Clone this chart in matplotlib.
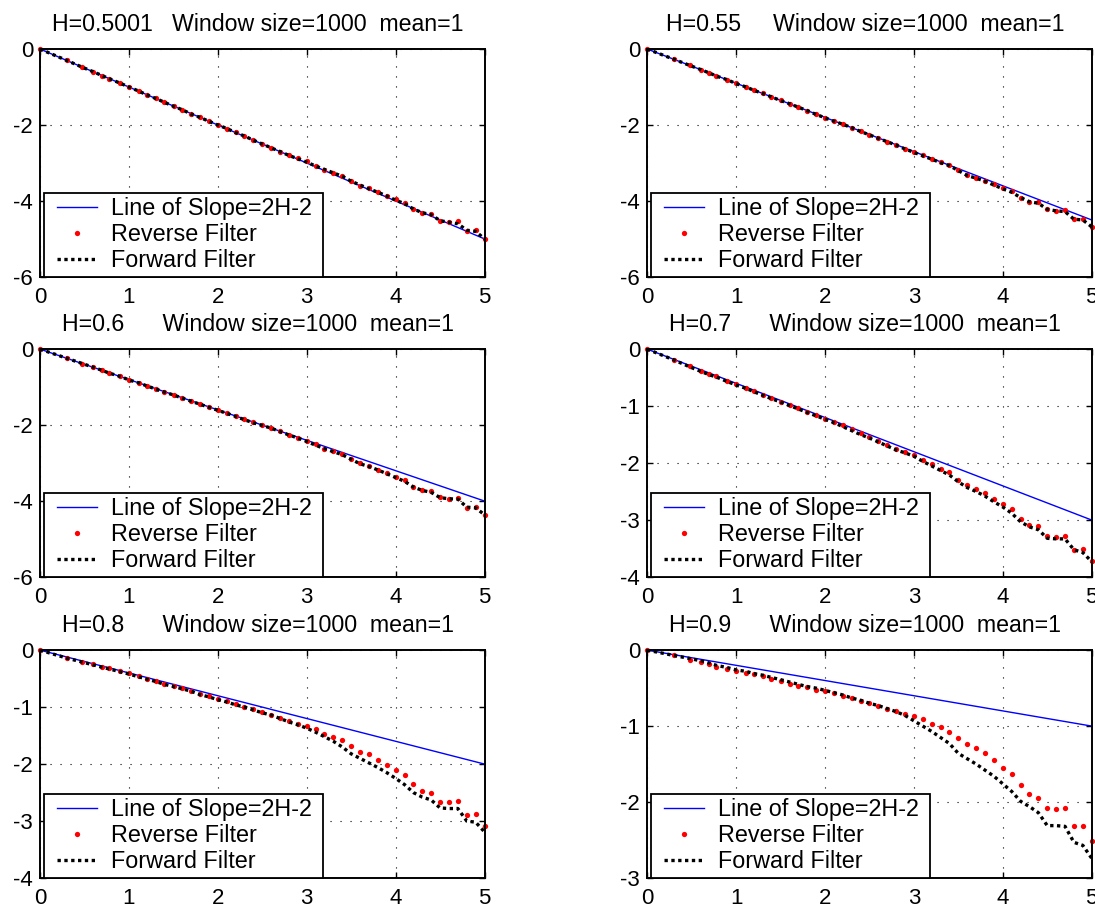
import matplotlib
matplotlib.use('Agg')
import matplotlib.pyplot as plt
from matplotlib.lines import Line2D
from matplotlib.legend_handler import HandlerLine2D

plt.rcParams['font.family'] = ['Liberation Sans', 'DejaVu Sans']
plt.rcParams['axes.unicode_minus'] = False

### Data: log10(window) on x, log10(normalised variance) on y
x_logm = [0, 0.301, 0.477, 0.602, 0.699, 0.778, 0.903, 1.0, 1.114, 1.204,
          1.301, 1.398, 1.505, 1.602, 1.699, 1.799, 1.898, 2.0, 2.1, 2.2,
          2.3, 2.4, 2.5, 2.6, 2.7, 2.8, 2.9, 3.0, 3.1, 3.2,
          3.3, 3.4, 3.5, 3.6, 3.7, 3.8, 3.9, 4.0, 4.1, 4.2,
          4.3, 4.4, 4.5, 4.6, 4.7, 4.8, 4.9, 5.0]

titles = ['H=0.5001   Window size=1000  mean=1',
          'H=0.55     Window size=1000  mean=1',
          'H=0.6      Window size=1000  mean=1',
          'H=0.7      Window size=1000  mean=1',
          'H=0.8      Window size=1000  mean=1',
          'H=0.9      Window size=1000  mean=1']

# straight line of slope 2H-2, from x=0 to x=5
line_x = [0, 5]
line_end = [-4.999, -4.5, -4.0, -3.0, -2.0, -1.0]

rev_05 = [0, -0.30, -0.48, -0.60, -0.70, -0.78, -0.90, -1.00, -1.11, -1.21,
          -1.30, -1.40, -1.50, -1.60, -1.70, -1.80, -1.89, -2.00, -2.10, -2.19,
          -2.30, -2.40, -2.49, -2.61, -2.70, -2.80, -2.88, -2.96, -3.07, -3.18,
          -3.27, -3.34, -3.47, -3.61, -3.67, -3.77, -3.87, -3.96, -4.06, -4.22,
          -4.31, -4.34, -4.53, -4.56, -4.53, -4.79, -4.77, -5.00]
fwd_05 = [0, -0.30, -0.48, -0.60, -0.70, -0.78, -0.90, -1.00, -1.11, -1.21,
          -1.30, -1.40, -1.51, -1.60, -1.71, -1.80, -1.90, -2.00, -2.09, -2.20,
          -2.29, -2.40, -2.50, -2.60, -2.70, -2.80, -2.89, -2.98, -3.08, -3.17,
          -3.26, -3.35, -3.48, -3.58, -3.68, -3.77, -3.87, -3.98, -4.07, -4.21,
          -4.31, -4.36, -4.52, -4.56, -4.60, -4.77, -4.80, -5.00]

rev_055 = [0, -0.27, -0.43, -0.54, -0.63, -0.70, -0.81, -0.90, -1.00, -1.08,
           -1.17, -1.26, -1.35, -1.44, -1.53, -1.62, -1.71, -1.81, -1.89, -1.98,
           -2.07, -2.16, -2.26, -2.34, -2.44, -2.53, -2.62, -2.72, -2.79, -2.89,
           -2.98, -3.05, -3.18, -3.32, -3.39, -3.47, -3.56, -3.67, -3.75, -3.91,
           -4.02, -4.04, -4.22, -4.26, -4.24, -4.48, -4.47, -4.68]
fwd_055 = [0, -0.27, -0.43, -0.54, -0.63, -0.71, -0.81, -0.91, -1.00, -1.09,
           -1.17, -1.26, -1.36, -1.44, -1.53, -1.62, -1.72, -1.81, -1.90, -1.98,
           -2.07, -2.17, -2.26, -2.35, -2.44, -2.53, -2.63, -2.72, -2.81, -2.90,
           -2.99, -3.07, -3.20, -3.33, -3.40, -3.48, -3.58, -3.68, -3.77, -3.91,
           -4.02, -4.06, -4.22, -4.26, -4.28, -4.48, -4.50, -4.68]

rev_06 = [0, -0.24, -0.38, -0.48, -0.56, -0.62, -0.72, -0.80, -0.89, -0.97,
          -1.04, -1.12, -1.21, -1.28, -1.36, -1.44, -1.52, -1.60, -1.69, -1.77,
          -1.85, -1.93, -2.00, -2.07, -2.16, -2.26, -2.33, -2.42, -2.51, -2.62,
          -2.69, -2.75, -2.89, -3.01, -3.08, -3.17, -3.26, -3.37, -3.45, -3.63,
          -3.72, -3.74, -3.89, -3.95, -3.92, -4.17, -4.16, -4.36]
fwd_06 = [0, -0.24, -0.38, -0.48, -0.56, -0.63, -0.72, -0.81, -0.89, -0.97,
          -1.05, -1.13, -1.21, -1.29, -1.37, -1.45, -1.53, -1.61, -1.69, -1.77,
          -1.86, -1.94, -2.01, -2.08, -2.17, -2.26, -2.34, -2.43, -2.53, -2.62,
          -2.70, -2.78, -2.90, -3.02, -3.09, -3.18, -3.28, -3.38, -3.48, -3.63,
          -3.72, -3.77, -3.91, -3.94, -3.95, -4.16, -4.18, -4.36]

rev_07 = [0, -0.19, -0.30, -0.38, -0.44, -0.48, -0.56, -0.62, -0.68, -0.74,
          -0.80, -0.86, -0.92, -0.98, -1.04, -1.10, -1.16, -1.22, -1.28, -1.34,
          -1.41, -1.48, -1.55, -1.61, -1.68, -1.75, -1.80, -1.86, -1.94, -2.02,
          -2.10, -2.16, -2.29, -2.39, -2.46, -2.53, -2.63, -2.71, -2.81, -2.98,
          -3.08, -3.11, -3.28, -3.29, -3.28, -3.52, -3.50, -3.72]
fwd_07 = [0, -0.19, -0.31, -0.39, -0.45, -0.49, -0.57, -0.63, -0.69, -0.75,
          -0.81, -0.87, -0.93, -0.99, -1.05, -1.11, -1.17, -1.23, -1.29, -1.36,
          -1.43, -1.50, -1.56, -1.63, -1.70, -1.77, -1.82, -1.88, -1.97, -2.05,
          -2.13, -2.21, -2.33, -2.43, -2.50, -2.58, -2.68, -2.77, -2.88, -3.03,
          -3.12, -3.17, -3.32, -3.33, -3.33, -3.52, -3.57, -3.73]

rev_08 = [0, -0.14, -0.20, -0.25, -0.29, -0.32, -0.37, -0.41, -0.46, -0.50,
          -0.54, -0.59, -0.63, -0.67, -0.71, -0.77, -0.81, -0.86, -0.90, -0.95,
          -0.99, -1.04, -1.09, -1.13, -1.19, -1.25, -1.29, -1.34, -1.39, -1.47,
          -1.53, -1.58, -1.68, -1.78, -1.83, -1.92, -2.01, -2.10, -2.19, -2.35,
          -2.47, -2.50, -2.66, -2.67, -2.65, -2.89, -2.88, -3.08]
fwd_08 = [0, -0.14, -0.21, -0.26, -0.30, -0.33, -0.38, -0.42, -0.47, -0.51,
          -0.55, -0.60, -0.64, -0.68, -0.72, -0.78, -0.82, -0.87, -0.91, -0.96,
          -1.00, -1.05, -1.10, -1.14, -1.20, -1.26, -1.31, -1.37, -1.44, -1.52,
          -1.60, -1.70, -1.82, -1.90, -1.98, -2.06, -2.15, -2.25, -2.36, -2.50,
          -2.58, -2.63, -2.77, -2.78, -2.78, -3.00, -3.02, -3.19]

rev_09 = [0, -0.07, -0.13, -0.16, -0.18, -0.22, -0.25, -0.27, -0.30, -0.32,
          -0.34, -0.38, -0.41, -0.44, -0.47, -0.49, -0.52, -0.54, -0.57, -0.60,
          -0.63, -0.67, -0.70, -0.73, -0.77, -0.80, -0.84, -0.87, -0.91, -0.97,
          -1.01, -1.08, -1.16, -1.23, -1.29, -1.36, -1.45, -1.55, -1.63, -1.78,
          -1.90, -1.95, -2.08, -2.09, -2.08, -2.32, -2.31, -2.51]
fwd_09 = [0, -0.07, -0.11, -0.14, -0.17, -0.20, -0.23, -0.26, -0.28, -0.31,
          -0.33, -0.36, -0.39, -0.42, -0.45, -0.48, -0.50, -0.53, -0.56, -0.59,
          -0.63, -0.66, -0.70, -0.73, -0.77, -0.81, -0.86, -0.93, -1.00, -1.07,
          -1.15, -1.23, -1.36, -1.43, -1.50, -1.58, -1.66, -1.76, -1.86, -1.99,
          -2.06, -2.14, -2.31, -2.31, -2.32, -2.53, -2.57, -2.74]

xticks = [0, 1, 2, 3, 4, 5]
yticks_6 = [-6, -4, -2, 0]
yticks_4 = [-4, -3, -2, -1, 0]
yticks_3 = [-3, -2, -1, 0]
ylims = [(-6, 0), (-6, 0), (-6, 0), (-4, 0), (-4, 0), (-3, 0)]

reverse = [rev_05, rev_055, rev_06, rev_07, rev_08, rev_09]
forward = [fwd_05, fwd_055, fwd_06, fwd_07, fwd_08, fwd_09]
yticks_all = [yticks_6, yticks_6, yticks_6, yticks_4, yticks_4, yticks_3]


def plot_panel(ax, i):
  ''' One matlab-looking panel: reference line, reverse dots, forward dotted '''
  ax.plot(line_x, [0, line_end[i]], color='#0000ff', lw=1.0,
    label='Line of Slope=2H-2 ')
  ax.plot(x_logm, reverse[i], ls='none', marker='o', ms=3.8,
    mfc='#ff0000', mec='none', clip_on=False, label='Reverse Filter')
  ax.plot(x_logm, forward[i], color='k', lw=2.4, ls=(0, (1, 1.05)),
    label='Forward Filter')

  ax.set_xlim(0, 5)
  ax.set_ylim(*ylims[i])
  ax.set_xticks(xticks)
  ax.set_xticklabels([str(t) for t in xticks])
  ax.set_yticks(yticks_all[i])
  ax.set_yticklabels([str(t) for t in yticks_all[i]])
  ax.grid(True, color='k', ls=(0, (1, 8)), lw=0.8)
  ax.tick_params(direction='in', length=4, top=True, right=True,
    labelsize=16, width=1)
  ax.tick_params(axis='x', pad=7)
  ax.tick_params(axis='y', pad=5)
  for sp in ax.spines.values():
    sp.set_linewidth(1.4)
  ax.set_title(titles[i], fontsize=16.7, pad=13, x=0.49)

  # xpad pushes the handle a bit away from the frame, like matlab does
  leg = ax.legend(loc='lower left', bbox_to_anchor=(0.009, 0.0),
    borderaxespad=0, fontsize=16.8, handlelength=2.06, handletextpad=0.6,
    borderpad=0.2, labelspacing=0.13, numpoints=1, fancybox=False,
    framealpha=1, edgecolor='k',
    handler_map={Line2D: HandlerLine2D(xpad=0.34)})
  leg.get_frame().set_linewidth(1.3)


fig = plt.figure(figsize=(10.95, 9.08), dpi=100)

### axes rectangles (figure fractions)
lefts = [0.0365, 0.591]
bottoms = [0.695, 0.3645, 0.033]
w, h = 0.406, 0.251

for i in range(6):
  ax = fig.add_axes([lefts[i % 2], bottoms[i // 2], w, h])
  plot_panel(ax, i)

fig.savefig('out.png', dpi=100, facecolor='white')
